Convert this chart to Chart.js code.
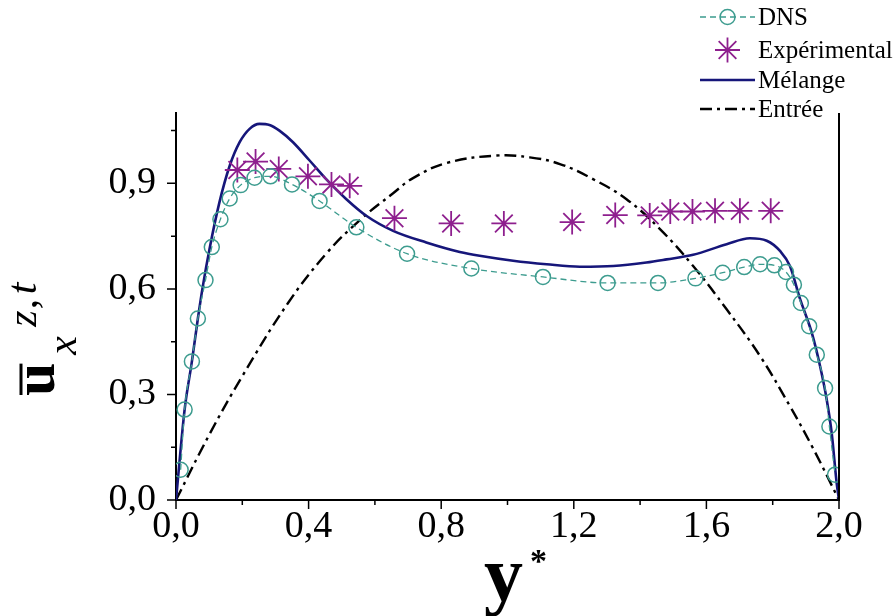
<!DOCTYPE html>
<html>
<head>
<meta charset="utf-8">
<script src="https://cdn.jsdelivr.net/npm/chart.js@4.4.1/dist/chart.umd.min.js"></script>
<style>
  html, body { margin: 0; padding: 0; background: #fff; }
  #chart { display: block; }
</style>
</head>
<body>
<canvas id="chart" width="895" height="616"></canvas>
<script>
// DNS profile (circles + dashed line)
const dnsX = [0.014, 0.026, 0.048, 0.066, 0.089, 0.108, 0.134, 0.162, 0.195, 0.237, 0.285, 0.350, 0.433, 0.544, 0.697, 0.891, 1.107, 1.302, 1.454, 1.567, 1.649, 1.714, 1.762, 1.805, 1.840, 1.864, 1.885, 1.910, 1.933, 1.958, 1.971, 1.988];
const dnsY = [0.086, 0.257, 0.394, 0.516, 0.625, 0.719, 0.798, 0.857, 0.895, 0.916, 0.920, 0.897, 0.850, 0.775, 0.700, 0.658, 0.634, 0.617, 0.617, 0.630, 0.646, 0.662, 0.670, 0.667, 0.648, 0.612, 0.560, 0.494, 0.413, 0.318, 0.209, 0.072];

// experimental points (stars)
const expX = [0.185, 0.240, 0.310, 0.398, 0.469, 0.524, 0.659, 0.830, 0.989, 1.195, 1.325, 1.429, 1.491, 1.558, 1.626, 1.701, 1.794];
const expY = [0.938, 0.962, 0.941, 0.920, 0.897, 0.893, 0.801, 0.786, 0.786, 0.790, 0.810, 0.809, 0.820, 0.820, 0.822, 0.822, 0.822];

// mixture model (solid line)
const melX = [0.000, 0.026, 0.048, 0.066, 0.081, 0.101, 0.131, 0.162, 0.192, 0.222, 0.252, 0.282, 0.312, 0.353, 0.403, 0.453, 0.514, 0.574, 0.655, 0.755, 0.856, 0.916, 1.017, 1.118, 1.218, 1.319, 1.419, 1.480, 1.560, 1.661, 1.731, 1.782, 1.822, 1.852, 1.883, 1.918, 1.943, 1.963, 1.978, 1.993, 2.000];
const melY = [0.000, 0.257, 0.394, 0.516, 0.608, 0.713, 0.846, 0.950, 1.017, 1.055, 1.069, 1.066, 1.050, 1.017, 0.965, 0.912, 0.855, 0.808, 0.765, 0.732, 0.705, 0.694, 0.680, 0.670, 0.663, 0.665, 0.675, 0.684, 0.697, 0.727, 0.744, 0.737, 0.708, 0.665, 0.570, 0.475, 0.380, 0.285, 0.190, 0.048, 0.000];

// inlet profile (dash-dot)
const inX = [0.000, 0.100, 0.200, 0.338, 0.453, 0.554, 0.655, 0.715, 0.816, 0.967, 1.067, 1.158, 1.258, 1.359, 1.460, 1.560, 1.661, 1.762, 1.850, 1.920, 2.000];
const inY = [0.000, 0.185, 0.352, 0.560, 0.700, 0.795, 0.872, 0.915, 0.958, 0.979, 0.974, 0.955, 0.912, 0.855, 0.770, 0.665, 0.542, 0.409, 0.270, 0.150, 0.000];

const xMajor = [0, 0.4, 0.8, 1.2, 1.6, 2.0];
const xMinor = [0.2, 0.6, 1.0, 1.4, 1.8];
const yMajor = [0, 0.3, 0.6, 0.9];
const yMinor = [0.15, 0.45, 0.75, 1.05];

const labels = ["DNS", "Expérimental", "Mélange", "Entrée"];
const colors = ["#3d9c8f", "#8e1f8e", "#16167a", "#000000"];

const SERIF = "'Liberation Serif', 'DejaVu Serif', serif";
const toPts = (xs, ys) => xs.map((x, i) => ({ x: x, y: ys[i] }));
const fmt = (v) => v.toFixed(1).replace(".", ",");

const decor = {
  id: "decor",
  afterDraw(chart) {
    const { ctx, scales: { x, y } } = chart;
    const x0 = x.getPixelForValue(0), x2 = x.getPixelForValue(2);
    const y0 = y.getPixelForValue(0), yTop = y.getPixelForValue(1.1);
    ctx.save();
    ctx.strokeStyle = "#000";
    ctx.lineWidth = 2;
    ctx.beginPath();
    ctx.moveTo(x2, yTop);
    ctx.lineTo(x2, y0);
    ctx.stroke();

    // outward ticks
    ctx.lineWidth = 1.5;
    ctx.beginPath();
    xMajor.forEach((v) => { const p = x.getPixelForValue(v); ctx.moveTo(p, y0); ctx.lineTo(p, y0 + 9); });
    xMinor.forEach((v) => { const p = x.getPixelForValue(v); ctx.moveTo(p, y0); ctx.lineTo(p, y0 + 5); });
    yMajor.forEach((v) => { const p = y.getPixelForValue(v); ctx.moveTo(x0, p); ctx.lineTo(x0 - 9, p); });
    yMinor.forEach((v) => { const p = y.getPixelForValue(v); ctx.moveTo(x0, p); ctx.lineTo(x0 - 5, p); });
    ctx.stroke();

    // x title  y*
    ctx.fillStyle = "#000";
    ctx.textBaseline = "alphabetic";
    ctx.textAlign = "left";
    ctx.font = "bold 78px " + SERIF;
    ctx.fillText("y", 484, 600);
    ctx.font = "bold 34px " + SERIF;
    ctx.fillText("*", 530, 572);

    // y title  u bar, sub x, sup z,t (rotated)
    ctx.save();
    ctx.translate(54, 396);
    ctx.rotate(-Math.PI / 2);
    ctx.font = "bold 60px " + SERIF;
    ctx.fillText("u", 0, 0);
    const uw = ctx.measureText("u").width;
    ctx.lineWidth = 3;
    ctx.beginPath();
    ctx.moveTo(1, -33);
    ctx.lineTo(uw - 1, -33);
    ctx.stroke();
    ctx.font = "italic 42px " + SERIF;
    ctx.fillText("x", uw + 8, 22);
    const sx = uw + 36;
    ctx.fillText("z", sx, -18);
    const zw = ctx.measureText("z").width;
    ctx.font = "42px " + SERIF;
    ctx.fillText(",", sx + zw + 1, -18);
    ctx.font = "italic 42px " + SERIF;
    ctx.fillText("t", sx + zw + 16, -18);
    ctx.restore();

    // legend
    const rows = [17, 50, 80, 109];
    const sx0 = 700, sx1 = 755, tx = 758;
    ctx.font = "25px " + SERIF;
    ctx.textBaseline = "middle";
    chart.data.datasets.forEach((ds, i) => {
      const ry = rows[i];
      ctx.strokeStyle = ds.borderColor;
      if (ds.showLine) {
        ctx.lineWidth = ds.borderWidth;
        ctx.setLineDash(ds.borderDash || []);
        ctx.beginPath();
        ctx.moveTo(sx0, ry);
        ctx.lineTo(sx1, ry);
        ctx.stroke();
        ctx.setLineDash([]);
      }
      if (ds.pointRadius > 0) {
        ctx.fillStyle = ds.pointBackgroundColor;
        ctx.lineWidth = ds.pointBorderWidth;
        Chart.helpers.drawPoint(ctx, {
          pointStyle: ds.pointStyle, radius: ds.pointRadius, borderWidth: ds.pointBorderWidth, rotation: 0
        }, (sx0 + sx1) / 2, ry);
      }
      ctx.fillStyle = "#000";
      ctx.fillText(labels[i], tx, ry + 1);
    });
    ctx.restore();
  }
};

new Chart(document.getElementById("chart"), {
  type: "scatter",
  data: {
    datasets: [
      {
        label: labels[0], data: toPts(dnsX, dnsY), showLine: true,
        borderColor: colors[0], borderWidth: 1.3, borderDash: [6, 4],
        cubicInterpolationMode: "monotone",
        pointStyle: "circle", pointRadius: 7.5, pointBorderWidth: 1.5,
        pointBorderColor: colors[0], pointBackgroundColor: "rgba(255,255,255,0)",
      },
      {
        label: labels[1], data: toPts(expX, expY), showLine: false,
        borderColor: colors[1], pointStyle: "star", pointRadius: 12.5,
        pointBorderWidth: 1.8, pointBorderColor: colors[1], pointBackgroundColor: colors[1],
      },
      {
        label: labels[2], data: toPts(melX, melY), showLine: true,
        borderColor: colors[2], borderWidth: 2.6, cubicInterpolationMode: "monotone",
        pointRadius: 0,
      },
      {
        label: labels[3], data: toPts(inX, inY), showLine: true,
        borderColor: colors[3], borderWidth: 2.4, borderDash: [12, 5, 3, 5],
        tension: 0.4, pointRadius: 0,
      },
    ],
  },
  options: {
    responsive: false,
    animation: false,
    devicePixelRatio: 1,
    layout: { padding: { left: 0, right: 56, top: 113, bottom: 0 } },
    plugins: { legend: { display: false }, tooltip: { enabled: false } },
    scales: {
      x: {
        type: "linear", min: 0, max: 2,
        afterFit: (s) => { s.height = 116; },
        afterBuildTicks: (s) => { s.ticks = xMajor.map((v) => ({ value: v })); },
        grid: { display: false },
        border: { display: true, color: "#000", width: 2 },
        ticks: { color: "#000", padding: -4, font: { family: SERIF, size: 38 }, callback: (v) => fmt(v), maxRotation: 0 },
      },
      y: {
        type: "linear", min: 0, max: 1.1,
        afterFit: (s) => { s.width = 176; },
        afterBuildTicks: (s) => { s.ticks = yMajor.map((v) => ({ value: v })); },
        grid: { display: false },
        border: { display: true, color: "#000", width: 2 },
        ticks: { color: "#000", padding: 12, font: { family: SERIF, size: 38 }, callback: (v) => fmt(v) },
      },
    },
  },
  plugins: [decor],
});
</script>
</body>
</html>
